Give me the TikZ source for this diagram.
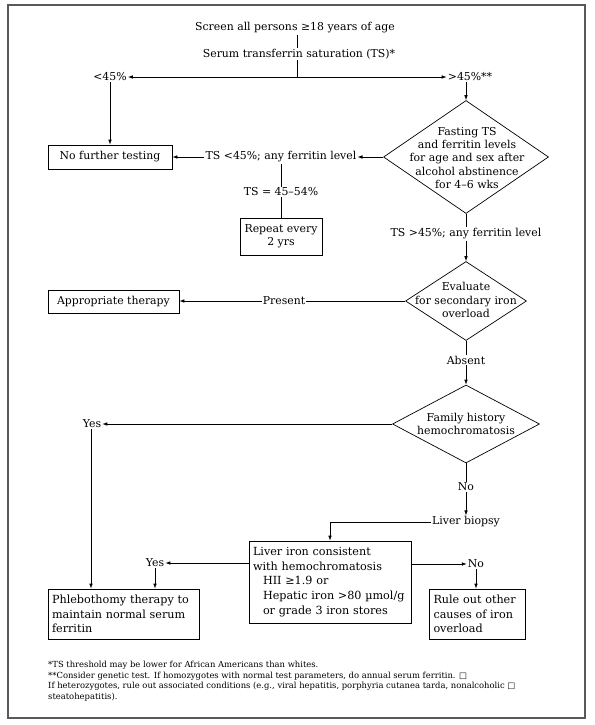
\documentclass[tikz,border=0pt]{standalone}
\usepackage{fontspec}
\setmainfont{DejaVu Serif}
\newfontfamily\symfont{DejaVu Sans}
\usetikzlibrary{shapes.geometric,arrows.meta}

\tikzset{
  x=1pt, y=-1pt,
  lbl/.style={font=\fontsize{10.9}{13.4}\selectfont, inner sep=1pt},
  box/.style={draw, line width=0.7pt, inner sep=0pt, font=\fontsize{10.9}{13.4}\selectfont, align=center},
  bigbox/.style={draw, line width=0.7pt, inner xsep=4pt, inner ysep=0pt, font=\fontsize{11.2}{14.6}\selectfont, align=left},
  decision/.style={draw, diamond, line width=0.7pt, inner sep=0pt},
  ln/.style={line width=0.7pt},
  arr/.style={line width=0.7pt, -{Latex[length=5pt,width=3.6pt]}},
}

\begin{document}
\begin{tikzpicture}
			%%%%% START %%%%%
			\useasboundingbox (0,0) rectangle (594,725);
			\draw[line width=1.1pt, color=black!65] (8,5) rectangle (585,718);
			
			% screening
			\node[lbl] (screen) at (295,28) {Screen all persons ≥18 years of age};
			\node[lbl] (serum) at (299,54) {Serum transferrin saturation (TS)*};
			\coordinate (split) at (297,77);
			\node[lbl] (lt45) at (110,77) {<45\%};
			\node[lbl] (gt45) at (470,77) {>45\%**};
			\draw[ln] (screen.south -| split) -- (serum.north -| split);
			\draw[ln] (serum.south -| split) -- (split);
			\draw[arr] (split) -- (lt45.east);
			\draw[arr] (split) -- (gt45.west);
			
			% fasting test
			\node[box, minimum width=124pt, minimum height=24pt] (nofurther) at (110,157) {No further testing};
			\node[decision, minimum width=165pt, minimum height=113pt] (fast) at (466,157) {};
			\node[lbl, align=center] (fasttxt) at (467,158) {Fasting TS\\and ferritin levels\\for age and sex after\\alcohol abstinence\\for 4–6 wks};
			\draw[arr] (lt45.south -| nofurther.north) -- (nofurther.north);
			\draw[arr] (gt45.south -| fast.north) -- (fast.north);
			
			\node[lbl] (tslow) at (281,157) {TS <45\%; any ferritin level};
			\draw[arr] (fast.west) -- (fast.west -| tslow.east);
			\draw[arr] (tslow.west) -- (tslow.west -| nofurther.east);
			\node[lbl] (tsmid) at (281,192) {TS = 45–54\%};
			\node[box, minimum width=82pt, minimum height=37pt] (repeat) at (281,236.5) {Repeat every\\2 yrs};
			\draw[ln] (tslow.south) -- (tsmid.north);
			\draw[ln] (tsmid.south) -- (repeat.north);
			
			% secondary overload
			\node[lbl] (tshigh) at (466,234) {TS >45\%; any ferritin level};
			\node[decision, minimum width=121pt, minimum height=79pt] (eval) at (466,301) {};
			\node[lbl, align=center] (evaltxt) at (466,300) {Evaluate\\for secondary iron\\overload};
			\draw[ln] (fast.south) -- (tshigh.north -| fast.south);
			\draw[arr] (tshigh.south -| eval.north) -- (eval.north);
			
			\node[lbl] (present) at (284,301) {Present};
			\node[box, minimum width=131pt, minimum height=23pt] (approp) at (113.5,301.5) {Appropriate therapy};
			\draw[ln] (eval.west) -- (eval.west -| present.east);
			\draw[arr] (present.west) -- (present.west -| approp.east);
			
			% family history
			\node[lbl] (absent) at (466,360) {Absent};
			\node[decision, minimum width=147pt, minimum height=78pt] (family) at (466,424) {};
			\node[lbl, align=center] (familytxt) at (466,424) {Family history\\hemochromatosis};
			\draw[ln] (eval.south) -- (absent.north);
			\draw[arr] (absent.south) -- (family.north);
			
			\node[lbl] (yesa) at (92,424) {Yes};
			\draw[arr] (family.west) -- (family.west -| yesa.east);
			
			\node[lbl] (noa) at (466,487) {No};
			\node[lbl] (biopsy) at (466,522) {Liver biopsy};
			\draw[ln] (family.south) -- (noa.north);
			\draw[arr] (noa.south) -- (biopsy.north);
			
			% liver biopsy result
			\node[bigbox, text width=154pt, minimum height=82pt] (liver) at (330,582) {Liver iron consistent\\with hemochromatosis\\\hspace*{10pt}HII ≥1.9 or\\\hspace*{10pt}Hepatic iron >80 µmol/g\\\hspace*{10pt}or grade 3 iron stores};
			\draw[arr] (biopsy.west) -| (liver.north);
			
			\node[bigbox, text width=143pt, minimum height=50pt] (phlebo) at (123.5,614) {Phlebothomy therapy to\\maintain normal serum\\ferritin};
			\node[bigbox, text width=88pt, minimum height=50pt] (ruleout) at (477.5,614) {Rule out other\\causes of iron\\overload};
			
			\node[lbl] (yesb) at (155,563) {Yes};
			\node[lbl] (nob) at (476,564) {No};
			\draw[arr] (yesb -| liver.west) -- (yesb.east);
			\draw[arr] (nob -| liver.east) -- (nob.west);
			\draw[arr] (yesb.south) -- (yesb.south |- phlebo.north);
			\draw[arr] (nob.south) -- (nob.south |- ruleout.north);
			\draw[arr] (yesa.south -| 91,0) -- (91,0 |- phlebo.north);
			
			% footnotes
			\node[anchor=north west, align=left, inner sep=0pt, font=\fontsize{8.4}{10.7}\selectfont] (notes) at (48,661) {*TS threshold may be lower for African Americans than whites.\\**Consider genetic test. If homozygotes with normal test parameters, do annual serum ferritin. {\symfont □}\\If heterozygotes, rule out associated conditions (e.g., viral hepatitis, porphyria cutanea tarda, nonalcoholic {\symfont □}\\steatohepatitis).};
			%%%%% END %%%%%
\end{tikzpicture}
\end{document}
